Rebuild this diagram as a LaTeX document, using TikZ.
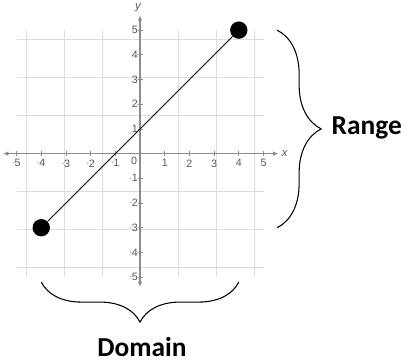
\documentclass[tikz,border=0pt]{standalone}
\usepackage{fontspec}
\setmainfont{Liberation Sans}
\newfontfamily\calib{Carlito}
\usetikzlibrary{decorations.pathreplacing, arrows.meta}
\definecolor{grid-gray}{HTML}{DDDDDD}
\definecolor{axis-gray}{HTML}{8C8C8C}
\definecolor{tick-gray}{HTML}{555555}
\newcommand{\ngt}[1]{{\fontsize{5}{5}\selectfont\raisebox{0.55ex}{-}}#1}

\begin{document}
\begin{tikzpicture}[x=18.5pt, y=18.5pt,
      every node/.style={font=\fontsize{8}{9}\selectfont, text=tick-gray},
      gridline/.style={grid-gray, line width=0.6pt},
      axisline/.style={axis-gray, line width=0.9pt, {Latex[length=4pt,width=3.5pt]}-{Latex[length=4pt,width=3.5pt]}},
      endpt/.style={circle, fill=black, inner sep=0pt, minimum size=13pt},
      bigbrace/.style={decorate, draw=black, line width=0.8pt},
      biglabel/.style={font=\calib\bfseries\fontsize{20.5}{24}\selectfont, text=black}]
    % picture frame, same proportions as the reference
    \useasboundingbox (-5.67,-8.51) rectangle (10.85,6.22);

    % grid and axes
    \draw[gridline] (-5,-5) grid (5,5);
    \draw[axisline] (-5.55,0) -- (5.6,0);
    \draw[axisline] (0,-5.4) -- (0,5.6);
    \node[font=\itshape\fontsize{8.5}{9}\selectfont, right] (xl) at (5.55,0) {x};
    \node[font=\itshape\fontsize{8.5}{9}\selectfont] (yl) at (-0.08,5.9) {y};

    % ticks and tick labels (no label at the origin, only the "0" below-left)
    \foreach \i in {-5,...,5} {
      \draw[axis-gray, line width=0.6pt] (\i,-0.1) -- (\i,0.1);
      \draw[axis-gray, line width=0.6pt] (-0.1,\i) -- (0.1,\i);
    }
    \foreach \i in {1,...,5} {
      \node[below] (xp\i) at (\i,-0.05) {\i};
      \node[below] (xn\i) at (-\i,-0.05) {\ngt{\i}};
      \node[left, inner sep=1.5pt] (yp\i) at (0,\i) {\i};
      \node[left, inner sep=1.5pt] (yn\i) at (0,-\i) {\ngt{\i}};
    }
    \node[below left, inner sep=2pt] (origin) at (0,0) {0};

    % the segment and its closed end points
    \node[endpt] (A) at (-4,-3) {};
    \node[endpt] (B) at (4,5) {};
    \draw[black, line width=0.7pt] (A) -- (B);

    % range brace on the right
    \coordinate (rtop) at (5.55,5);
    \coordinate (rbot) at (5.55,-3);
    \draw[bigbrace, decoration={brace, amplitude=33pt}] (rtop) -- (rbot);
    \node[biglabel, right, inner sep=0pt] (range) at (7.75,1.04) {Range};

    % domain brace below
    \coordinate (dleft) at (-4,-5.2);
    \coordinate (dright) at (4,-5.2);
    \draw[bigbrace, decoration={brace, amplitude=30pt}] (dright) -- (dleft);
    \node[biglabel] (domain) at (0.08,-7.82) {Domain};
  \end{tikzpicture}
\end{document}
